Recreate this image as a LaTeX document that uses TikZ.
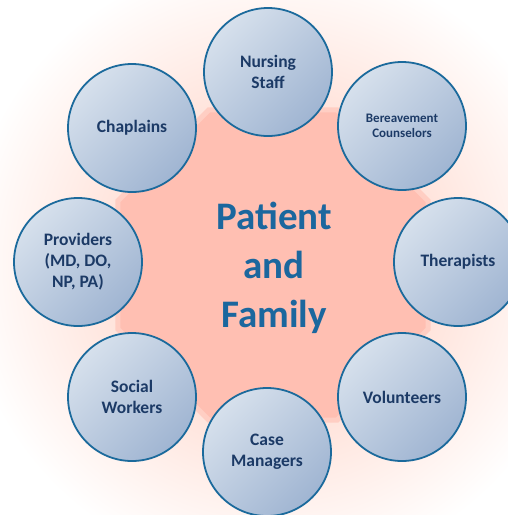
\documentclass[tikz,border=0pt]{standalone}
\usepackage{fontspec}
\setmainfont{Carlito}
\definecolor{octfill}{HTML}{FFBFB2}
\definecolor{glow}{HTML}{FFE4DC}
\definecolor{ringline}{HTML}{1B6A9C}
\definecolor{circTL}{HTML}{D6E0EC}
\definecolor{circBR}{HTML}{A0B5D2}
\definecolor{smalltext}{HTML}{1C3A66}
\definecolor{bigtext}{HTML}{1B679E}
\pgfdeclareradialshading{bgglow}{\pgfpoint{0bp}{0bp}}{color(0bp)=(glow); color(165bp)=(glow); color(310bp)=(white); color(420bp)=(white)}
\begin{document}
\begin{tikzpicture}[x=1pt,y=-1pt,
  member/.style={circle, draw=ringline, line width=1.8pt, minimum size=128pt, inner sep=0pt,
    top color=circTL, bottom color=circBR, shading angle=45, text=smalltext,
    font=\fontsize{17.5}{21}\selectfont\bfseries, align=center},
  smallmember/.style={member, font=\fontsize{13}{15.5}\selectfont\bfseries},
  coretext/.style={text=bigtext, font=\fontsize{39}{49}\selectfont\bfseries, align=center, inner sep=0pt}]
\useasboundingbox (0,0) rectangle (508,515);
\begin{scope}
\clip (0,0) rectangle (508,515);
\node[inner sep=0pt] (glowbg) at (273,265) {\pgfuseshading{bgglow}};
\draw[octfill!60!glow, line width=5pt, fill=octfill]
  (273,265) +(22.5:167.8) -- +(67.5:167.8) -- +(112.5:167.8) -- +(157.5:167.8)
  -- +(202.5:167.8) -- +(247.5:167.8) -- +(292.5:167.8) -- +(337.5:167.8) -- cycle;
\node[coretext] (core) at (274,268) {Patient\\and\\Family};
\node[member] (nursing) at (268,72) {Nursing\\Staff};
\node[smallmember] (bereave) at (402,126) {Bereavement\\Counselors};
\node[member] (therap) at (458,262) {Therapists};
\node[member] (volunt) at (402,397) {Volunteers};
\node[member] (casem) at (267,452) {Case\\Managers};
\node[member] (social) at (132,397) {Social\\Workers};
\node[member] (provid) at (78,262) {Providers\\(MD, DO,\\NP, PA)};
\node[member] (chapl) at (132,128) {Chaplains};
\end{scope}
\end{tikzpicture}
\end{document}
